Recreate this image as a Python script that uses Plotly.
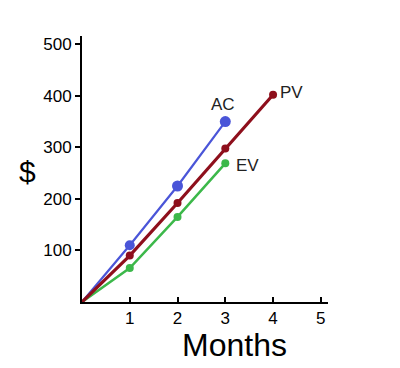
import plotly.graph_objects as go

months = [0, 1, 2, 3, 4]
ac_months = [0, 1, 2, 3]
ac_values = [0, 110, 225, 350]
pv_values = [0, 90, 192, 298, 402]
ev_values = [0, 66, 165, 269]
x_ticks = [1, 2, 3, 4, 5]
y_ticks = [100, 200, 300, 400, 500]

AC_COLOR = "#4a55d8"
PV_COLOR = "#8e0f1c"
EV_COLOR = "#3cb84a"

fig = go.Figure()
fig.add_trace(go.Scatter(x=ac_months, y=ev_values, mode="lines+markers",
                         line=dict(color=EV_COLOR, width=2.5),
                         marker=dict(color=EV_COLOR, size=[0, 8, 8, 8], opacity=1,
                                     line=dict(width=0)),
                         showlegend=False, hoverinfo="skip"))
fig.add_trace(go.Scatter(x=ac_months, y=ac_values, mode="lines+markers",
                         line=dict(color=AC_COLOR, width=2.2),
                         marker=dict(color=AC_COLOR, size=[0, 10, 11, 11], opacity=1,
                                     line=dict(width=0)),
                         showlegend=False, hoverinfo="skip"))
fig.add_trace(go.Scatter(x=months, y=pv_values, mode="lines+markers",
                         line=dict(color=PV_COLOR, width=3.2),
                         marker=dict(color=PV_COLOR, size=[0, 8, 8, 8, 8], opacity=1,
                                     line=dict(width=0)),
                         showlegend=False, hoverinfo="skip"))

label_font = dict(family="Arial, Liberation Sans", size=17, color="#222222")
fig.add_annotation(x=ac_months[-1], y=ac_values[-1], text="AC", showarrow=False,
                   xanchor="center", yanchor="bottom", yshift=6, xshift=-2, font=label_font)
fig.add_annotation(x=months[-1], y=pv_values[-1], text="PV", showarrow=False,
                   xanchor="left", yanchor="middle", xshift=5, yshift=2, font=label_font)
fig.add_annotation(x=ac_months[-1], y=ev_values[-1], text="EV", showarrow=False,
                   xanchor="left", yanchor="top", xshift=9, yshift=9, font=label_font)

fig.add_annotation(xref="paper", yref="paper", x=-0.22, y=0.49, text="$", showarrow=False,
                   font=dict(family="Arial, Liberation Sans", size=30, color="black"),
                   xanchor="center", yanchor="middle")
fig.add_annotation(xref="paper", yref="paper", x=0.618, y=-0.162, text="Months", showarrow=False,
                   font=dict(family="Arial, Liberation Sans", size=32, color="black"),
                   xanchor="center", yanchor="middle")

fig.update_xaxes(range=[0, 5.15], tickvals=x_ticks, ticks="inside", ticklen=5,
                 tickwidth=1.5, tickcolor="black", showline=True, linecolor="black",
                 linewidth=2, showgrid=False, zeroline=False,
                 tickfont=dict(family="Arial, Liberation Sans", size=17, color="black"))
fig.update_yaxes(range=[0, 516], tickvals=y_ticks, ticks="outside", ticklen=5,
                 tickwidth=1.5, tickcolor="black", showline=True, linecolor="black",
                 linewidth=2, showgrid=False, zeroline=False,
                 tickfont=dict(family="Arial, Liberation Sans", size=17, color="black"))

fig.update_layout(width=392, height=360, margin=dict(l=74, r=72, t=28, b=66),
                  plot_bgcolor="white", paper_bgcolor="white")
fig.write_html("out.html")
